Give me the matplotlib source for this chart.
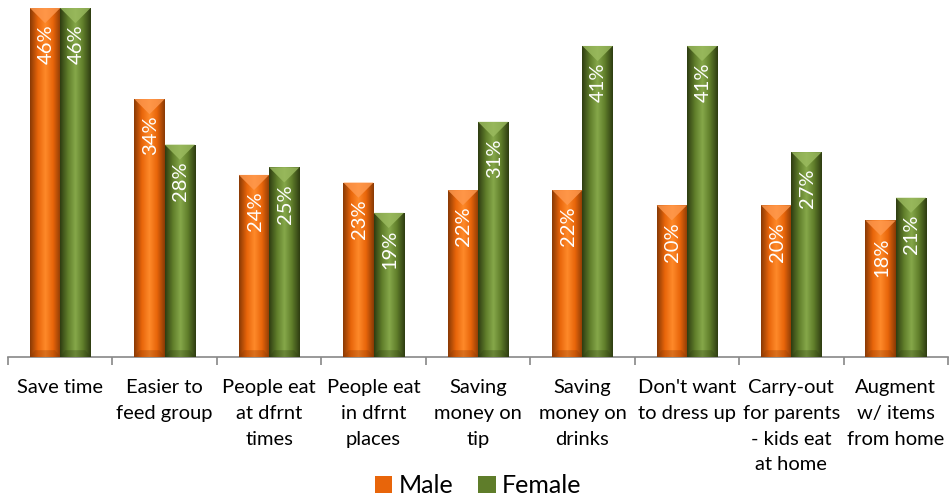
import matplotlib
matplotlib.use("Agg")
from matplotlib import pyplot as plt
from matplotlib.colors import LinearSegmentedColormap
from matplotlib.patches import Polygon
import numpy as np

categories = ["Save time", "Easier to\nfeed group", "People eat\nat dfrnt\ntimes",
              "People eat\nin dfrnt\nplaces", "Saving\nmoney on\ntip", "Saving\nmoney on\ndrinks",
              "Don't want\nto dress up", "Carry-out\nfor parents\n- kids eat\nat home",
              "Augment\nw/ items\nfrom home"]
male = [46, 34, 24, 23, 22, 22, 20, 20, 18]
female = [46, 28, 25, 19, 31, 41, 41, 27, 21]

plt.rcParams['font.family'] = ['Lato', 'DejaVu Sans']

fig = plt.figure(figsize=(9.5, 4.97), dpi=100)
ax = fig.add_axes([8 / 950, 1 - 357 / 497, 940 / 950, 357 / 497])

x = np.arange(len(categories))
w = 0.29

series = [
    (male, -w / 2, ["#8a3a05", "#e8650a", "#ff8a2a", "#e8650a", "#8a3a05"], "#ff9a50", "Male"),
    (female, w / 2, ["#2f3d12", "#5f7d2a", "#86a84a", "#5f7d2a", "#2f3d12"], "#9cbc60", "Female"),
]

ymax = 46 * 357 / 349
tri = 2.0

for vals, off, cols, light, name in series:
    cmap = LinearSegmentedColormap.from_list(name, cols)
    grad = np.linspace(0, 1, 64).reshape(1, -1)
    bars = ax.bar(x + off, vals, w, color=cols[1], label=name, edgecolor="none", zorder=2)
    for b, v in zip(bars, vals):
        x0 = b.get_x()
        x1 = x0 + b.get_width()
        im = ax.imshow(grad, cmap=cmap, extent=[x0, x1, 0, v], aspect="auto", zorder=3)
        im.set_clip_path(b)
        ax.add_patch(Polygon([[x0, v], [x1, v], [(x0 + x1) / 2, v - tri]],
                             closed=True, color=light, alpha=0.8, lw=0, zorder=4))
        ax.add_patch(Polygon([[x0, 0], [x1, 0], [x1 - 0.05, 0.9], [x0 + 0.05, 0.9]],
                             closed=True, color=cols[0], alpha=0.3, lw=0, zorder=4))
        ax.text(x0 + b.get_width() / 2 + 0.01, v - 2.2, "%d%%" % v, rotation=90,
                ha="center", va="top", color="white", fontsize=14.5, zorder=5)

ax.set_xlim(-0.5, len(categories) - 0.5)
ax.set_ylim(0, ymax)
ax.set_xticks(x)
ax.set_xticklabels(categories, fontsize=14.5, linespacing=1.62, va="top")
ax.set_xticks(np.arange(-0.5, len(categories)), minor=True)
ax.tick_params(axis="x", which="major", length=0, pad=16)
ax.tick_params(axis="x", which="minor", length=6, color="#888888", width=1.2)
ax.set_yticks([])
for s in ["top", "right", "left"]:
    ax.spines[s].set_visible(False)
ax.spines["bottom"].set_color("#888888")
ax.spines["bottom"].set_linewidth(1.2)

ax.legend(loc="center", bbox_to_anchor=(0.5, -0.36), ncol=2, frameon=False,
          fontsize=18, handlelength=0.7, handleheight=0.7, handletextpad=0.25,
          columnspacing=1.0)

fig.savefig("out.png", dpi=100)
